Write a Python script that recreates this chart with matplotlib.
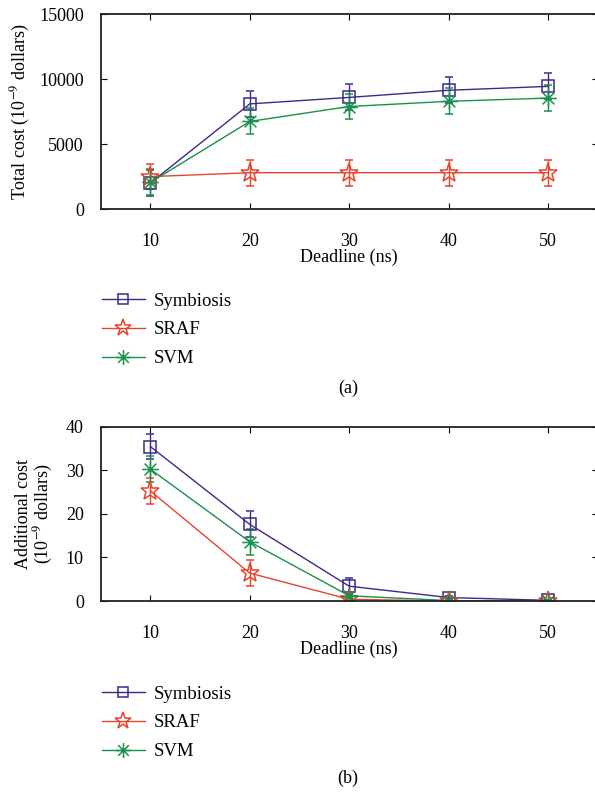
import numpy as np
import matplotlib
matplotlib.use("Agg")
import matplotlib.pyplot as plt
from matplotlib.path import Path

plt.rcParams["font.family"] = ["Liberation Serif", "DejaVu Serif"]
plt.rcParams["mathtext.fontset"] = "stix"

deadline = [10, 20, 30, 40, 50]
names = ["Symbiosis", "SRAF", "SVM"]

# (a) total cost, 10^-9 dollars
total_sym = [2000, 8100, 8600, 9150, 9450]
total_sym_err = [1000, 1000, 1000, 1000, 1000]
total_sraf = [2500, 2800, 2800, 2800, 2800]
total_sraf_err = [950, 1000, 1000, 1000, 1000]
total_svm = [2050, 6750, 7900, 8300, 8550]
total_svm_err = [1000, 1000, 1000, 1000, 1000]

# (b) additional cost, 10^-9 dollars
add_sym = [35.5, 17.6, 3.4, 0.8, 0.15]
add_sym_err = [2.9, 3.0, 1.8, 0.3, 0.1]
add_sraf = [25.3, 6.4, 0.4, 0.0, 0.0]
add_sraf_err = [3.0, 3.0, 0.3, 0.1, 0.1]
add_svm = [30.3, 13.6, 1.2, 0.1, 0.0]
add_svm_err = [3.0, 3.0, 0.5, 0.1, 0.1]

colors = ["#3b2a8c", "#e8432d", "#18924a"]

# 8-spoke asterisk marker
verts, codes = [], []
for a in np.deg2rad([0, 45, 90, 135]):
    verts += [(-np.cos(a), -np.sin(a)), (np.cos(a), np.sin(a))]
    codes += [Path.MOVETO, Path.LINETO]
asterisk = Path(verts, codes)

markers = ["s", "*", asterisk]
msizes = [8.5, 14, 12]

fig = plt.figure(figsize=(5.95, 7.95), dpi=100)
ax1 = fig.add_axes([0.169, 0.737, 0.836, 0.245])
ax2 = fig.add_axes([0.169, 0.244, 0.836, 0.219])


def draw(ax, series, errs):
    for i in range(3):
        ax.errorbar(deadline, series[i], yerr=errs[i], color=colors[i], lw=1.0,
                    marker=markers[i], ms=msizes[i], mfc="none", mec=colors[i],
                    mew=1.1, capsize=3, elinewidth=1.0, capthick=1.0,
                    label=names[i])
    ax.set_xlim(5, 55)
    ax.set_xticks(deadline)
    ax.tick_params(direction="in", top=True, right=True, labelsize=13,
                   length=4, width=0.8)
    ax.tick_params(axis="x", pad=17)
    ax.tick_params(axis="y", pad=12)
    for s in ax.spines.values():
        s.set_linewidth(1.3)
        s.set_color("#222222")
    ax.set_xlabel("Deadline (ns)", fontsize=13, labelpad=-1)


draw(ax1, [total_sym, total_sraf, total_svm], [total_sym_err, total_sraf_err, total_svm_err])
ax1.set_ylim(0, 15000)
ax1.set_yticks([0, 5000, 10000, 15000])
ax1.set_ylabel("Total cost (10$^{-9}$ dollars)", fontsize=13, labelpad=5)

draw(ax2, [add_sym, add_sraf, add_svm], [add_sym_err, add_sraf_err, add_svm_err])
ax2.set_ylim(0, 40)
ax2.set_yticks([0, 10, 20, 30, 40])
ax2.set_ylabel("Additional cost\n(10$^{-9}$ dollars)", fontsize=13, labelpad=8,
               linespacing=1.0)

for ax, y in [(ax1, 1 - 285 / 795), (ax2, 1 - 678 / 795)]:
    h, l = ax.get_legend_handles_labels()
    h = [x[0] for x in h]
    fig.legend(h, l, loc="upper left", bbox_to_anchor=(0.158, y), frameon=False,
               fontsize=13.5, handlelength=2.3, handletextpad=0.5, labelspacing=0.62,
               markerscale=0.9, borderaxespad=0)

fig.text(0.585, 1 - 388 / 795, "(a)", ha="center", va="center", fontsize=13)
fig.text(0.585, 1 - 778 / 795, "(b)", ha="center", va="center", fontsize=13)

fig.savefig("out.png", dpi=100)
